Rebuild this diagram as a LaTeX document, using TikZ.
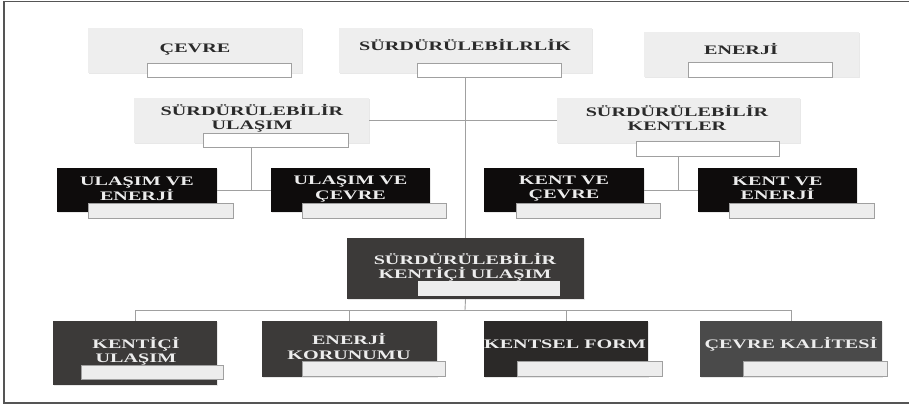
\documentclass[tikz,border=0pt]{standalone}
\usepackage{fontspec}
\setmainfont{Liberation Serif}
\newfontfamily\lblfont[FakeStretch=1.55]{Liberation Serif}
\usetikzlibrary{shadows}
\definecolor{boxgray}{HTML}{EEEEEE}
\definecolor{subgray}{HTML}{EDEDED}
\definecolor{linegray}{HTML}{A0A0A0}
\definecolor{txtdark}{HTML}{2A2A2A}
\definecolor{blackbox}{HTML}{0E0C0C}
\definecolor{darkA}{HTML}{3C3A39}
\definecolor{darkB}{HTML}{2B2928}
\definecolor{darkC}{HTML}{4A4A4A}
\definecolor{framecol}{HTML}{555555}
\begin{document}
\begin{tikzpicture}[x=1pt,y=-1pt,
  conn/.style={draw=linegray, line width=0.9pt},
  gbox/.style={fill=boxgray, inner sep=0pt, draw=none,
    drop shadow={opacity=0.18, shadow xshift=1pt, shadow yshift=-1pt}},
  dbox/.style={fill=#1, inner sep=0pt, draw=none,
    drop shadow={opacity=0.18, shadow xshift=1pt, shadow yshift=-1pt}},
  wsub/.style={fill=white, draw=linegray, line width=0.8pt, inner sep=0pt},
  dsub/.style={fill=subgray, draw=linegray, line width=0.8pt, inner sep=0pt},
  glbl/.style={text=txtdark, inner sep=0pt, align=center,
    font=\lblfont\bfseries\fontsize{13}{14}\selectfont},
  dlbl/.style={text=white!93!black, inner sep=0pt, align=center,
    font=\lblfont\bfseries\fontsize{13}{14.5}\selectfont},
  sz/.style 2 args={minimum width=#1pt, minimum height=#2pt}
]
\useasboundingbox (0,0) rectangle (909,405);
% frame
\draw[framecol, line width=1.1pt] (909,1.5) -- (4,1.5) -- (4,403) -- (909,403);

% ---------- boxes ----------
% top row
\node[gbox, sz={214}{45}] (cevre) at (195,50.5) {};
\node[wsub, sz={144}{14}] (cevresub) at (219,70) {};
\node[glbl, anchor=base] (cevrelbl) at (195,52) {ÇEVRE};

\node[gbox, sz={253}{45}] (surd) at (465.5,50.5) {};
\node[wsub, sz={144}{14}] (surdsub) at (489,70) {};
\node[glbl, anchor=base] (surdlbl) at (465,50) {SÜRDÜRÜLEBİLRLİK};

\node[gbox, sz={215}{45}] (enerji) at (751.5,54.5) {};
\node[wsub, sz={144}{15}] (enerjisub) at (760,69.5) {};
\node[glbl, anchor=base] (enerjilbl) at (741,54) {ENERJİ};

% second row
\node[gbox, sz={235}{45}] (ulasim) at (251.5,120.5) {};
\node[wsub, sz={145}{14}] (ulasimsub) at (275.5,140) {};
\node[glbl] (ulasimlbl) at (252,118) {SÜRDÜRÜLEBİLİR\\ULAŞIM};

\node[gbox, sz={243}{45}] (kentler) at (678.5,120.5) {};
\node[wsub, sz={143}{15}] (kentlersub) at (707.5,148.5) {};
\node[glbl] (kentlerlbl) at (677,117.5) {SÜRDÜRÜLEBİLİR\\KENTLER};

% third row
\node[dbox=blackbox, sz={160}{44}] (ue) at (137,190) {};
\node[dsub, sz={145}{15}] (uesub) at (160.5,210.5) {};
\node[dlbl] (uelbl) at (137,189) {ULAŞIM VE\\ENERJİ};

\node[dbox=blackbox, sz={159}{44}] (uc) at (350.5,190) {};
\node[dsub, sz={144}{15}] (ucsub) at (374,210.5) {};
\node[dlbl] (uclbl) at (350.5,189) {ULAŞIM VE\\ÇEVRE};

\node[dbox=blackbox, sz={160}{44}] (kc) at (564,190) {};
\node[dsub, sz={144}{15}] (kcsub) at (588,210.5) {};
\node[dlbl] (kclbl) at (564,188.5) {KENT VE\\ÇEVRE};

\node[dbox=blackbox, sz={159}{44}] (ke) at (777.5,190) {};
\node[dsub, sz={145}{15}] (kesub) at (801.5,210.5) {};
\node[dlbl] (kelbl) at (777.5,188.5) {KENT VE\\ENERJİ};

% centre
\node[dbox=darkA, sz={237}{61}] (center) at (465.5,268.5) {};
\node[dsub, draw=none, sz={142}{15}] (centersub) at (489,288.5) {};
\node[dlbl] (centerlbl) at (465,267.5) {SÜRDÜRÜLEBİLİR\\KENTİÇİ ULAŞIM};

% bottom row
\node[dbox=darkA, sz={164}{64}] (ku) at (135,353) {};
\node[dsub, sz={142}{14}] (kusub) at (152,372) {};
\node[dlbl] (kulbl) at (136,351.5) {KENTİÇİ\\ULAŞIM};

\node[dbox=darkA, sz={175}{56}] (ek) at (349.5,349) {};
\node[dsub, sz={143}{15}] (eksub) at (373.5,368.5) {};
\node[dlbl] (eklbl) at (349,346.5) {ENERJİ\\KORUNUMU};

\node[dbox=darkB, sz={164}{56}] (kf) at (566,349) {};
\node[dsub, sz={145}{15}] (kfsub) at (589.5,368.5) {};
\node[dlbl, anchor=base] (kflbl) at (565,348) {KENTSEL FORM};

\node[dbox=darkC, sz={182}{56}] (ck) at (791,349) {};
\node[dsub, sz={144}{15}] (cksub) at (815,368.5) {};
\node[dlbl, anchor=base] (cklbl) at (791,348) {ÇEVRE KALİTESİ};

% ---------- connectors ----------
\coordinate (bus) at (465,310);
\draw[conn] (surdsub.south -| center.north) -- (center.north);
\draw[conn] (ulasim.east) -- (kentler.west);
\draw[conn] (ulasimsub.south -| ulasim.south) -- (ulasim.south |- ue.east);
\draw[conn] (ue.east) -- (uc.west);
\draw[conn] (kentlersub.south -| kentler.south) -- (kentler.south |- kc.east);
\draw[conn] (kc.east) -- (ke.west);
\draw[conn] (center.south) -- (bus);
\draw[conn] (ku.north) -- (ku.north |- bus) -- (ck.north |- bus) -- (ck.north);
\draw[conn] (ek.north) -- (ek.north |- bus);
\draw[conn] (kf.north) -- (kf.north |- bus);
\end{tikzpicture}
\end{document}
